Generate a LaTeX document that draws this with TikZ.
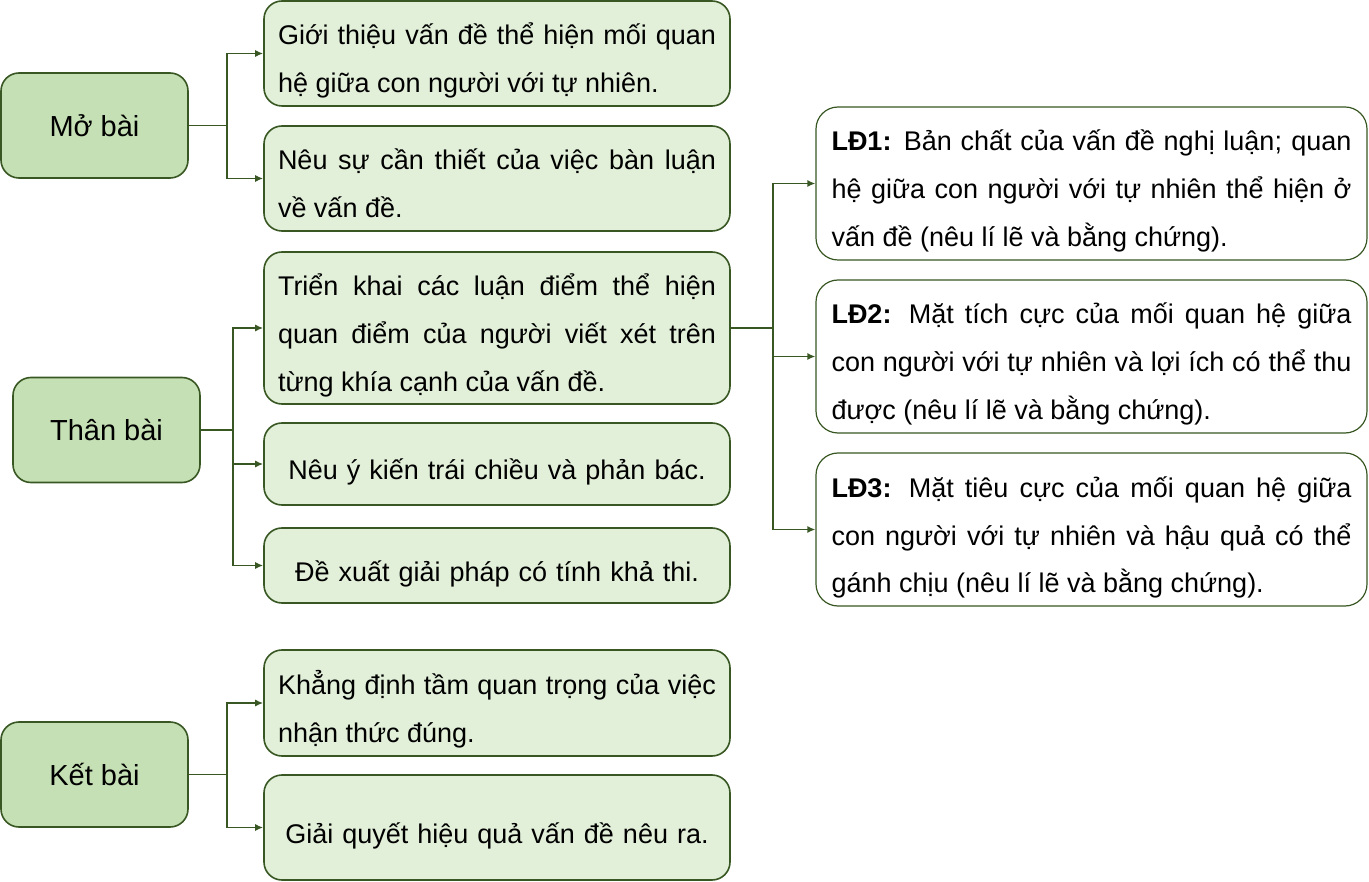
\documentclass[tikz,border=0pt]{standalone}
\usepackage{fontspec}
\setmainfont{Liberation Sans}
\usepackage{xcolor}
\usepackage{tikz}
\usetikzlibrary{arrows.meta}

\definecolor{leaf}{HTML}{385723}
\definecolor{headfill}{HTML}{C5E0B4}
\definecolor{itemfill}{HTML}{E2F0D9}
\hyphenpenalty=10000

\begin{document}
\begin{tikzpicture}[
		x=1pt, y=-1pt,
		every node/.style={font=\fontsize{27}{48}\selectfont, text=black},
		head/.style={draw=leaf, line width=1.6pt, fill=headfill, rounded corners=18pt, minimum width=187pt, minimum height=105pt, font=\fontsize{29}{48}\selectfont},
		drop/.style={execute at begin node={\rule{0pt}{38pt}}, execute at end node={\rule[-7pt]{0pt}{7pt}}},
		item/.style={draw=leaf, line width=1.6pt, fill=itemfill, rounded corners=18pt, minimum width=466pt, text width=438pt, align=justify, inner sep=0pt, drop},
		centred/.style={align=center},
		point/.style={draw=leaf, line width=1.2pt, fill=white, rounded corners=22pt, minimum width=551pt, minimum height=153pt, text width=520pt, align=justify, inner sep=0pt, drop},
		conn/.style={draw=leaf, line width=1.5pt, -{Latex[length=8pt,width=7pt]}}
		]

	\useasboundingbox (0, 0) rectangle (1369, 882);

	% Mở bài
	\node[head] (mo) at (94.5, 125.5) {Mở bài};
	\node[item, minimum height=105pt] (a1) at (497, 53.5) {Giới thiệu vấn đề thể hiện mối quan\linebreak hệ giữa con người với tự nhiên.};
	\node[item, minimum height=105pt] (a2) at (497, 178.5) {Nêu sự cần thiết của việc bàn luận\linebreak về vấn đề.};

	% Thân bài
	\node[head] (than) at (106.5, 430) {Thân bài};
	\node[item, minimum height=152pt] (b1) at (497, 328) {Triển khai các luận điểm thể hiện\linebreak quan điểm của người viết xét trên\linebreak từng khía cạnh của vấn đề.};
	\node[item, centred, minimum height=82pt] (b2) at (497, 464) {Nêu ý kiến trái chiều và phản bác.};
	\node[item, centred, minimum height=75pt] (b3) at (497, 565.5) {Đề xuất giải pháp có tính khả thi.};

	% Luận điểm
	\node[point] (ld1) at (1091.5, 183.5) {\textbf{LĐ1:} Bản chất của vấn đề nghị luận; quan\linebreak hệ giữa con người với tự nhiên thể hiện ở\linebreak vấn đề (nêu lí lẽ và bằng chứng).};
	\node[point] (ld2) at (1091.5, 356.5) {\textbf{LĐ2:} Mặt tích cực của mối quan hệ giữa\linebreak con người với tự nhiên và lợi ích có thể thu\linebreak được (nêu lí lẽ và bằng chứng).};
	\node[point] (ld3) at (1091.5, 529.5) {\textbf{LĐ3:} Mặt tiêu cực của mối quan hệ giữa\linebreak con người với tự nhiên và hậu quả có thể\linebreak gánh chịu (nêu lí lẽ và bằng chứng).};

	% Kết bài
	\node[head] (ket) at (94.5, 774.5) {Kết bài};
	\node[item, minimum height=106pt] (c1) at (497, 703) {Khẳng định tầm quan trọng của việc\linebreak nhận thức đúng.};
	\node[item, centred, minimum height=105pt] (c2) at (497, 827.5) {Giải quyết hiệu quả vấn đề nêu ra.};

	% Branch points
	\coordinate (mo-j) at ([xshift=38pt]mo.east);
	\coordinate (than-j) at ([xshift=32pt]than.east);
	\coordinate (b1-j) at ([xshift=42pt]b1.east);
	\coordinate (ket-j) at ([xshift=38pt]ket.east);

	% Connectors
	\foreach \from/\to in {mo/a1, mo/a2, than/b1, than/b2, than/b3, b1/ld1, b1/ld2, b1/ld3, ket/c1, ket/c2}{
		\draw[conn] (\from.east) -- (\from-j) |- (\to.west);
	}

\end{tikzpicture}
\end{document}
